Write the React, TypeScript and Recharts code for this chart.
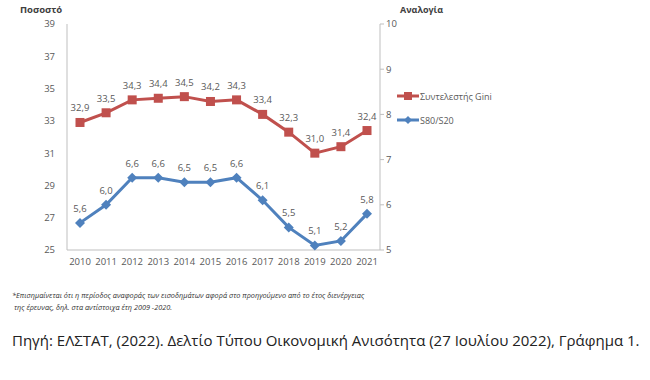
import React from "react";
import { LineChart, Line, XAxis, YAxis, LabelList } from "recharts";

const years = ["2010", "2011", "2012", "2013", "2014", "2015", "2016", "2017", "2018", "2019", "2020", "2021"];
const gini = [32.9, 33.5, 34.3, 34.4, 34.5, 34.2, 34.3, 33.4, 32.3, 31.0, 31.4, 32.4];
const s80s20 = [5.6, 6.0, 6.6, 6.6, 6.5, 6.5, 6.6, 6.1, 5.5, 5.1, 5.2, 5.8];
const leftTicks = [25, 27, 29, 31, 33, 35, 37, 39];
const rightTicks = [5, 6, 7, 8, 9, 10];

const data = years.map((year, i) => ({ year, gini: gini[i], ratio: s80s20[i] }));

const RED = "#c0504d";
const BLUE = "#4f81bd";
const AXIS = "#bfbfbf";
const TXT = "#595959";
const FONT = "'Open Sans', 'DejaVu Sans', sans-serif";

const fmt = (v: any) => Number(v).toFixed(1).replace(".", ",");

function SquareDot(props: any) {
  const { cx, cy } = props;
  if (cx == null || cy == null) return null;
  return <rect x={cx - 4.5} y={cy - 4.5} width={9} height={9} fill={RED} />;
}

function DiamondDot(props: any) {
  const { cx, cy } = props;
  if (cx == null || cy == null) return null;
  return <path d={`M${cx},${cy - 5}L${cx + 5},${cy}L${cx},${cy + 5}L${cx - 5},${cy}Z`} fill={BLUE} />;
}

function ChartLegend() {
  const items = [
    { name: "Συντελεστής Gini", color: RED, square: true },
    { name: "S80/S20", color: BLUE, square: false },
  ];
  return (
    <div style={{ position: "absolute", left: 397, top: 84, fontFamily: FONT, fontSize: 9, color: TXT }}>
      {items.map((it) => (
        <div key={it.name} style={{ display: "flex", alignItems: "center", height: 24 }}>
          <svg width={22} height={10} style={{ marginRight: 1 }}>
            <line x1={0} y1={5} x2={22} y2={5} stroke={it.color} strokeWidth={3} />
            {it.square ? (
              <rect x={7} y={1} width={8} height={8} fill={it.color} />
            ) : (
              <path d="M11,1L15,5L11,9L7,5Z" fill={it.color} />
            )}
          </svg>
          <span>{it.name}</span>
        </div>
      ))}
    </div>
  );
}

export default function App() {
  return (
    <div style={{ position: "absolute", left: 0, top: 0, width: 650, height: 380, background: "#fff", fontFamily: FONT }}>
      <div style={{ position: "absolute", left: 20, top: 3, fontSize: 9.5, fontWeight: 700, color: "#404040" }}>Ποσοστό</div>
      <div style={{ position: "absolute", left: 400, top: 3, fontSize: 9, fontWeight: 700, color: "#404040" }}>Αναλογία</div>
      <LineChart width={650} height={380} data={data} margin={{ top: 24, right: 230, bottom: 110, left: 27 }}>
        <XAxis
          dataKey="year"
          height={20}
          stroke={AXIS}
          tickLine={false}
          padding={{ left: 13, right: 13 }}
          tick={{ fontSize: 9.5, fill: TXT, fontFamily: FONT }}
          interval={0}
        />
        <YAxis
          yAxisId="left"
          width={40}
          domain={[25, 39]}
          ticks={leftTicks}
          stroke={AXIS}
          tickLine={false}
          tick={{ fontSize: 9.5, fill: TXT, fontFamily: FONT }}
          tickMargin={6}
        />
        <YAxis
          yAxisId="right"
          orientation="right"
          width={40}
          domain={[5, 10]}
          ticks={rightTicks}
          stroke={AXIS}
          tickSize={4}
          tick={{ fontSize: 9.5, fill: TXT, fontFamily: FONT }}
        />
        <Line
          yAxisId="left"
          dataKey="gini"
          name="Συντελεστής Gini"
          stroke={RED}
          strokeWidth={3}
          dot={<SquareDot />}
          isAnimationActive={false}
        >
          <LabelList dataKey="gini" position="top" offset={11} formatter={fmt} style={{ fontSize: 9.5, fill: TXT, fontFamily: FONT }} />
        </Line>
        <Line
          yAxisId="right"
          dataKey="ratio"
          name="S80/S20"
          stroke={BLUE}
          strokeWidth={3}
          dot={<DiamondDot />}
          isAnimationActive={false}
        >
          <LabelList dataKey="ratio" position="top" offset={11} formatter={fmt} style={{ fontSize: 9.5, fill: TXT, fontFamily: FONT }} />
        </Line>
      </LineChart>
      <ChartLegend />
      <div style={{ position: "absolute", left: 12, top: 289, fontSize: 7.3, fontStyle: "italic", color: "#333", lineHeight: "12px" }}>
        *Επισημαίνεται ότι η περίοδος αναφοράς των εισοδημάτων αφορά στο προηγούμενο από το έτος διενέργειας
        <br />
        &nbsp;της έρευνας, δηλ. στα αντίστοιχα έτη 2009 -2020.
      </div>
      <div style={{ position: "absolute", left: 12, top: 330, fontSize: 15, color: "#222", whiteSpace: "nowrap" }}>
        Πηγή: ΕΛΣΤΑΤ, (2022). Δελτίο Τύπου Οικονομική Ανισότητα (27 Ιουλίου 2022), Γράφημα 1.
      </div>
    </div>
  );
}
